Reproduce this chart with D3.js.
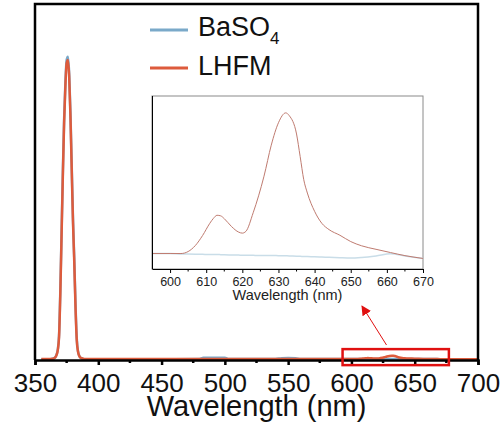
<!DOCTYPE html>
<html lang="en">
<head>
    <meta charset="UTF-8">
    <title>Excitation spectrum BaSO4 / LHFM</title>
    <script src="https://d3js.org/d3.v7.min.js"></script>
    <style>
        body { margin: 0; background: #fff; font-family: "Liberation Sans", Arial, sans-serif; }
        svg { display: block; }
    </style>
</head>
<body>
    <div id="chart"></div>
    <script>
        // wavelength (nm) and intensities
        const wavelength = [355, 360, 364, 366, 367, 368, 369, 370, 371, 372, 373, 374, 375, 376, 377, 378, 379, 380,
            381, 382, 383, 384, 385, 386, 388, 390, 420, 450, 480, 483, 490, 500, 503, 540, 545, 550, 556, 560,
            595, 600, 603, 605, 607, 609, 611, 612, 613, 614, 615, 617, 619, 620, 621, 623, 626, 628, 630, 632,
            633, 635, 636, 637, 638, 640, 642, 644, 647, 650, 653, 657, 661, 665, 670, 680, 700];
        const lhfm = [0.3, 0.3, 0.4, 0.8, 1.5, 3, 7, 20, 38, 56, 72, 83, 90, 91, 86, 74, 58, 42,
            30, 16, 6, 2.5, 1.2, 0.7, 0.4, 0.3, 0.3, 0.3, 0.3, 0.3, 0.3, 0.3, 0.3, 0.3, 0.3, 0.3, 0.3, 0.3,
            0.30, 0.30, 0.30, 0.314, 0.357, 0.428, 0.515, 0.55, 0.572, 0.568, 0.548, 0.492, 0.452, 0.445, 0.458, 0.59, 0.85, 1.07, 1.23, 1.30,
            1.28, 1.15, 0.99, 0.825, 0.73, 0.60, 0.515, 0.47, 0.43, 0.385, 0.355, 0.33, 0.307, 0.285, 0.265, 0.26, 0.26];
        const baso4 = [0.2, 0.2, 0.4, 0.8, 1.6, 3.2, 7.5, 21, 39, 57, 73, 84, 91, 92, 87, 75, 59, 43,
            31, 17, 6.5, 2.6, 1.2, 0.7, 0.3, 0.2, 0.2, 0.2, 0.3, 0.65, 0.7, 0.7, 0.3, 0.3, 0.55, 0.6, 0.55, 0.3,
            0.30, 0.30, 0.297, 0.296, 0.295, 0.294, 0.293, 0.293, 0.293, 0.292, 0.291, 0.290, 0.289, 0.288, 0.288, 0.287, 0.286, 0.286, 0.285, 0.284,
            0.283, 0.281, 0.280, 0.279, 0.278, 0.277, 0.275, 0.273, 0.270, 0.268, 0.272, 0.283, 0.298, 0.283, 0.265, 0.2, 0.2];

        const mainTicks = [350, 400, 450, 500, 550, 600, 650, 700];
        const mainMinor = [375, 425, 475, 525, 575, 625, 675];
        const insetTicks = [600, 610, 620, 630, 640, 650, 660, 670];
        const insetMinor = [605, 615, 625, 635, 645, 655, 665];
        const seriesNames = ["BaSO", "LHFM"];
        const colors = { baso4: "#7aa9c9", lhfm: "#dd5b3c" };

        const width = 501, height = 432;
        const font = '"Liberation Sans", Arial, sans-serif';

        const svg = d3.select("#chart").append("svg")
            .attr("width", width).attr("height", height);

        const x = d3.scaleLinear().domain([350, 700]).range([35, 478]);
        const y = d3.scaleLinear().domain([0, 108]).range([360, 4]);

        const pts = key => wavelength.map((w, i) => ({ w, v: key[i] }));

        const mainLine = d3.line().x(d => x(d.w)).y(d => y(d.v)).curve(d3.curveMonotoneX);

        svg.append("path").datum(pts(baso4)).attr("d", mainLine)
            .attr("fill", "none").attr("stroke", colors.baso4).attr("stroke-width", 2.5);
        svg.append("path").datum(pts(lhfm)).attr("d", mainLine)
            .attr("fill", "none").attr("stroke", colors.lhfm).attr("stroke-width", 2.5);

        // frame
        svg.append("path")
            .attr("d", `M${x(350)},${y(0)}V${y(108)}H${x(700)}V${y(0)}`)
            .attr("fill", "none").attr("stroke", "#000").attr("stroke-width", 2.5);

        // x axis
        const xAxis = svg.append("g").attr("transform", `translate(0,${y(0)})`)
            .call(d3.axisBottom(x).tickValues(mainTicks).tickSize(5).tickPadding(9).tickFormat(d3.format("d")));
        xAxis.select(".domain").attr("stroke-width", 2.5);
        xAxis.selectAll(".tick line").attr("stroke-width", 2.5);
        xAxis.selectAll(".tick text").attr("font-family", font).attr("font-size", 26).attr("fill", "#111");
        svg.append("g").selectAll("line").data(mainMinor).join("line")
            .attr("x1", d => x(d)).attr("x2", d => x(d))
            .attr("y1", y(0)).attr("y2", y(0) + 3)
            .attr("stroke", "#000").attr("stroke-width", 2.5);

        svg.append("text").attr("x", (x(350) + x(700)) / 2).attr("y", 416)
            .attr("text-anchor", "middle").attr("font-family", font).attr("font-size", 29)
            .attr("fill", "#111").text("Wavelength (nm)");

        // red highlight box and arrow
        svg.append("rect").attr("x", x(593)).attr("y", y(3.3))
            .attr("width", x(677) - x(593)).attr("height", 16)
            .attr("fill", "none").attr("stroke", "#e01010").attr("stroke-width", 2.5);
        svg.append("defs").append("marker").attr("id", "arrow")
            .attr("viewBox", "0 0 10 10").attr("refX", 9).attr("refY", 5)
            .attr("markerWidth", 10).attr("markerHeight", 10).attr("markerUnits", "userSpaceOnUse")
            .attr("orient", "auto")
            .append("path").attr("d", "M0,0L10,5L0,10z").attr("fill", "#e01010");
        svg.append("line").attr("x1", 386.5).attr("y1", 345).attr("x2", 362).attr("y2", 306)
            .attr("stroke", "#e01010").attr("stroke-width", 1).attr("marker-end", "url(#arrow)");

        // legend
        const legend = svg.append("g");
        const legendY = [30, 68];
        legend.selectAll("line").data([colors.baso4, colors.lhfm]).join("line")
            .attr("x1", 150).attr("x2", 188)
            .attr("y1", (d, i) => legendY[i]).attr("y2", (d, i) => legendY[i])
            .attr("stroke", d => d).attr("stroke-width", 3);
        const lt = legend.selectAll("text").data(seriesNames).join("text")
            .attr("x", 198).attr("y", (d, i) => legendY[i] + 6 + i * 1)
            .attr("font-family", font).attr("font-size", 27).attr("fill", "#111")
            .text(d => d);
        d3.select(lt.nodes()[0]).append("tspan").attr("font-size", 17).attr("dy", 8).text("4");

        // inset
        const ix = d3.scaleLinear().domain([595, 670]).range([152, 423]);
        const iy = d3.scaleLinear().domain([0.19, 1.42]).range([269, 96]);
        const inset = svg.append("g");
        inset.append("rect").attr("x", 152).attr("y", 96).attr("width", 271).attr("height", 173)
            .attr("fill", "#fff").attr("stroke", "#8a8a8a").attr("stroke-width", 1);
        svg.append("clipPath").attr("id", "iclip").append("rect")
            .attr("x", 152).attr("y", 96).attr("width", 271).attr("height", 173);
        const insetLine = d3.line().x(d => ix(d.w)).y(d => iy(d.v)).curve(d3.curveMonotoneX);
        const inPts = key => pts(key).filter(d => d.w >= 595 && d.w <= 670);
        const ig = inset.append("g").attr("clip-path", "url(#iclip)");
        ig.append("path").datum(inPts(baso4)).attr("d", insetLine)
            .attr("fill", "none").attr("stroke", "#c9dde8").attr("stroke-width", 1.5);
        ig.append("path").datum(inPts(lhfm)).attr("d", insetLine)
            .attr("fill", "none").attr("stroke", "#bf7b70").attr("stroke-width", 1);

        inset.append("line").attr("x1", 152.5).attr("x2", 152.5).attr("y1", 96).attr("y2", 269)
            .attr("stroke", "#000").attr("stroke-width", 1);
        const iAxis = inset.append("g").attr("transform", "translate(0,269)")
            .call(d3.axisBottom(ix).tickValues(insetTicks).tickSize(4).tickPadding(4).tickSizeOuter(0));
        iAxis.selectAll(".tick text").attr("font-family", font).attr("font-size", 12.5).attr("fill", "#222");
        inset.append("g").selectAll("line").data(insetMinor).join("line")
            .attr("x1", d => ix(d)).attr("x2", d => ix(d))
            .attr("y1", 269).attr("y2", 271.5).attr("stroke", "#000");
        inset.append("text").attr("x", 287.5).attr("y", 300).attr("text-anchor", "middle")
            .attr("font-family", font).attr("font-size", 14.5).attr("fill", "#222").text("Wavelength (nm)");
    </script>
</body>
</html>
